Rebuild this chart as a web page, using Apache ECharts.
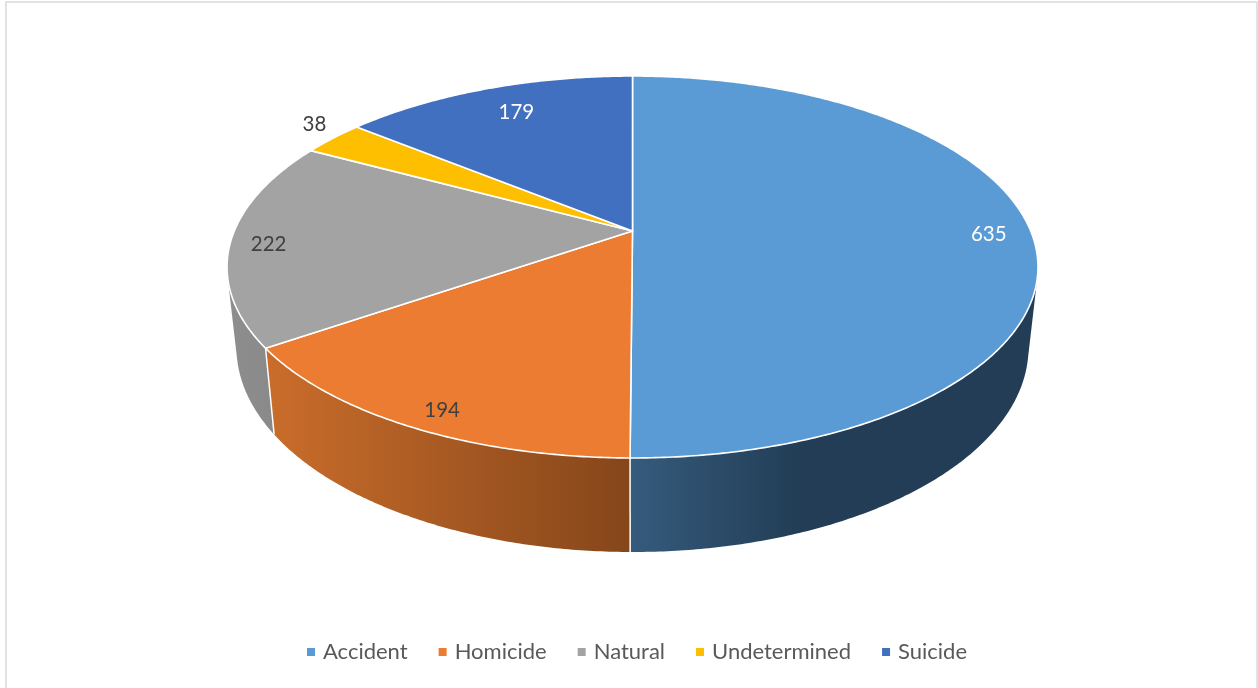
<!DOCTYPE html>
<html>
<head>
<meta charset="utf-8">
<style>html,body{margin:0;padding:0;background:#fff}#c{width:1258px;height:688px}</style>
<script src="https://cdn.jsdelivr.net/npm/echarts@6/dist/echarts.min.js"></script>
</head>
<body>
<div id="c"></div>
<script>
const categories = ['Accident', 'Homicide', 'Natural', 'Undetermined', 'Suicide'];
const values = [635, 194, 222, 38, 179];
const topColors = ['#5B9BD5', '#EB7C31', '#A3A3A3', '#FDBF00', '#4270C0'];
const sideStops = [
  [[0, '#355b7d'], [0.42, '#223d55'], [1, '#223d55']],
  [[0, '#ca6d2b'], [1, '#85461a']],
  [[0, '#8e8e8e'], [1, '#858585']],
  [[0, '#997300'], [1, '#997300']],
  [[0, '#294576'], [1, '#294576']]
];
const labelColors = ['#ffffff', '#404040', '#404040', '#404040', '#ffffff'];
const labelRadius = [0.893, 0.912, 0.905, 1.114, 0.8135];
const labelAngleShift = [0.5, -1.5, -1, 2.5, 1.3];

// Tilted-disc projection of the pie's top and bottom faces
const cx = 632.5;
const topFace = { y0: 231, a: 398.2, b: 184.2, k: 0.1885 };
const bottomFace = { y0: 309, a: 388.9, b: 197.2, k: 0.1885 };
const total = values.reduce((s, v) => s + v, 0);

function project(face, deg, r) {
  const t = deg * Math.PI / 180;
  const u = Math.sin(t) * r, v = -Math.cos(t) * r;
  const d = 1 - face.k * v;
  return [cx + face.a * u / d, face.y0 + face.b * v / d];
}
function arc(face, from, to) {
  const n = Math.max(2, Math.ceil((to - from) / 0.5));
  const pts = [];
  for (let i = 0; i <= n; i++) pts.push(project(face, from + (to - from) * i / n, 1));
  return pts;
}
function startAngle(i) {
  return values.slice(0, i).reduce((s, v) => s + v, 0) / total * 360;
}
// The wall of a slice: the outline around its top and bottom arcs
function hull(points) {
  const p = points.slice().sort((a, b) => a[0] - b[0] || a[1] - b[1]);
  const cross = (o, a, b) => (a[0] - o[0]) * (b[1] - o[1]) - (a[1] - o[1]) * (b[0] - o[0]);
  const half = list => {
    const h = [];
    list.forEach(q => {
      while (h.length > 1 && cross(h[h.length - 2], h[h.length - 1], q) <= 0) h.pop();
      h.push(q);
    });
    h.pop();
    return h;
  };
  return half(p).concat(half(p.slice().reverse()));
}
function renderSlice(i) {
  const from = startAngle(i), to = startAngle(i + 1), mid = (from + to) / 2;
  const stops = sideStops[i].map(s => ({ offset: s[0], color: s[1] }));
  const labelAt = project(topFace, mid + labelAngleShift[i], labelRadius[i]);
  const side = hull(arc(topFace, from, to).concat(arc(bottomFace, from, to)));
  const edgeTop = project(topFace, from, 1), edgeBottom = project(bottomFace, from, 1);
  // walls nearer the viewer paint over the ones further round
  const nearness = -Math.cos(mid * Math.PI / 180);
  return {
    type: 'group',
    children: [
      { type: 'polygon', z2: 2 + nearness, shape: { points: side },
        style: { fill: new echarts.graphic.LinearGradient(0, 0, 1, 0, stops), stroke: null } },
      { type: 'line', z2: 4, shape: { x1: edgeTop[0], y1: edgeTop[1], x2: edgeBottom[0], y2: edgeBottom[1] },
        style: { stroke: '#ffffff', lineWidth: 1.5, fill: null } },
      { type: 'polygon', z2: 5, shape: { points: [project(topFace, 0, 0)].concat(arc(topFace, from, to)) },
        style: { fill: topColors[i], stroke: '#ffffff', lineWidth: 1.6, lineJoin: 'round' } },
      { type: 'text', z2: 6, x: labelAt[0], y: labelAt[1] + 1.5,
        style: { text: String(values[i]), fill: labelColors[i], font: '20.5px Lato', align: 'center', verticalAlign: 'middle' } }
    ]
  };
}

const chart = echarts.init(document.getElementById('c'), null, { renderer: 'canvas' });
chart.setOption({
  animation: false,
  backgroundColor: '#ffffff',
  color: topColors,
  graphic: [{ type: 'rect', silent: true, shape: { x: 6, y: 2, width: 1251, height: 700 },
    style: { fill: null, stroke: '#e2e2e2', lineWidth: 2 } }],
  legend: {
    data: categories, bottom: 20, left: 302, icon: 'rect',
    itemWidth: 8, itemHeight: 8, itemGap: 31,
    textStyle: { fontFamily: 'Lato', fontSize: 22, color: '#595959', padding: [0, 0, 0, 3] }
  },
  series: categories.map((name, i) => ({
    type: 'custom', name, coordinateSystem: 'none', data: [[values[i]]],
    itemStyle: { color: topColors[i] },
    renderItem: () => renderSlice(i)
  }))
});
</script>
</body>
</html>
